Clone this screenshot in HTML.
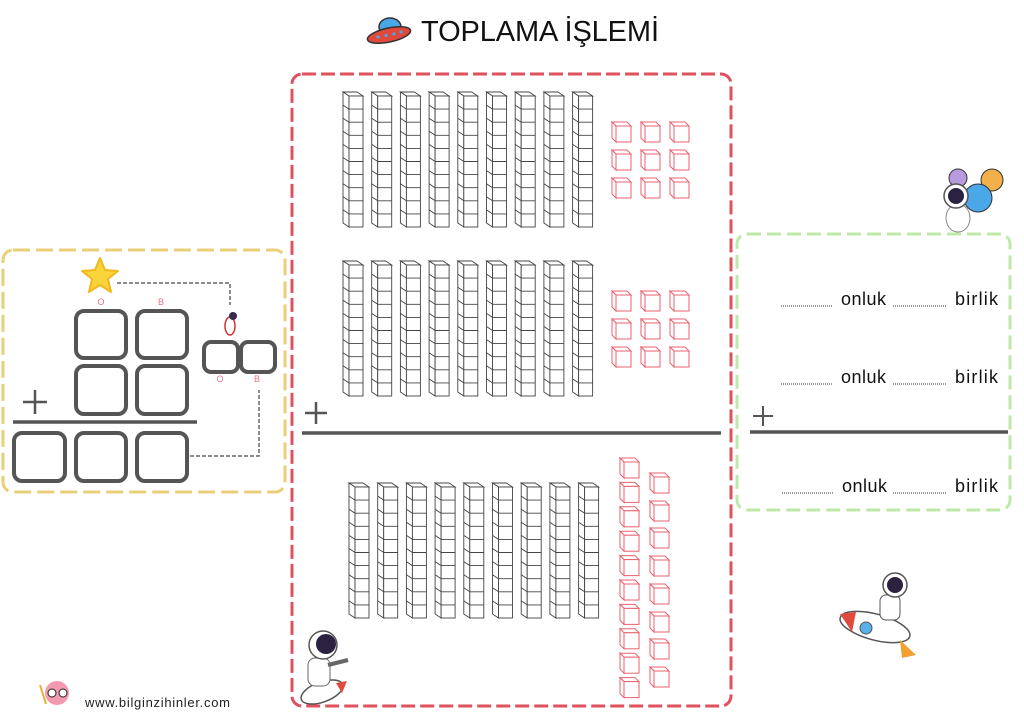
<!DOCTYPE html>
<html><head><meta charset="utf-8"><style>
html,body{margin:0;padding:0;background:#fff;width:1024px;height:724px;overflow:hidden}
svg{display:block}
text{font-family:"Liberation Sans","DejaVu Sans",sans-serif}
</style></head><body>
<svg width="1024" height="724" viewBox="0 0 1024 724" xmlns="http://www.w3.org/2000/svg">
<defs>
<g id="rod" fill="none" stroke="#444" stroke-width="0.9">
 <polygon points="0,0 14,0 20,4 6,4" fill="#fff"/>
 <polygon points="0,0 6,4 6,135 0,131" fill="#fff"/>
 <rect x="6" y="4" width="14" height="131" fill="#fff"/>
 <path d="M6 17.1h14M6 30.2h14M6 43.3h14M6 56.4h14M6 69.5h14M6 82.6h14M6 95.7h14M6 108.8h14M6 121.9h14
 M0 13.1l6 4M0 26.2l6 4M0 39.3l6 4M0 52.4l6 4M0 65.5l6 4M0 78.6l6 4M0 91.7l6 4M0 104.8l6 4M0 117.9l6 4"/>
</g>
<g id="cube" fill="#fff" stroke="#e8606e" stroke-width="1">
 <polygon points="0,0 15,0 19,4 4,4"/>
 <polygon points="0,0 4,4 4,20 0,16"/>
 <rect x="4" y="4" width="15" height="16"/>
</g>
<g id="tenrow">
 <use href="#rod" x="0"/><use href="#rod" x="28.7"/><use href="#rod" x="57.4"/><use href="#rod" x="86.1"/><use href="#rod" x="114.8"/><use href="#rod" x="143.5"/><use href="#rod" x="172.2"/><use href="#rod" x="200.9"/><use href="#rod" x="229.6"/>
</g>
<g id="nine">
 <use href="#cube" x="0" y="0"/><use href="#cube" x="29" y="0"/><use href="#cube" x="58" y="0"/>
 <use href="#cube" x="0" y="28"/><use href="#cube" x="29" y="28"/><use href="#cube" x="58" y="28"/>
 <use href="#cube" x="0" y="56"/><use href="#cube" x="29" y="56"/><use href="#cube" x="58" y="56"/>
</g>
</defs>

<!-- title -->
<g>
 <ellipse cx="390" cy="27" rx="11" ry="9" fill="#4aa8e8" stroke="#333" stroke-width="1.5"/>
 <ellipse cx="389" cy="35" rx="22" ry="7" fill="#e0483c" stroke="#333" stroke-width="1.5" transform="rotate(-12 389 35)"/>
 <circle cx="378" cy="37" r="1.6" fill="#4aa8e8"/><circle cx="386" cy="35.5" r="1.6" fill="#4aa8e8"/><circle cx="394" cy="34" r="1.6" fill="#4aa8e8"/><circle cx="401" cy="32" r="1.6" fill="#4aa8e8"/>
</g>
<text x="421" y="41" font-size="29" textLength="238" lengthAdjust="spacing" fill="#111">TOPLAMA İŞLEMİ</text>

<!-- boxes -->
<rect x="292" y="74" width="439" height="632" rx="10" fill="none" stroke="#e0505f" stroke-width="3" stroke-dasharray="14 5"/>
<rect x="3" y="250" width="282" height="242" rx="10" fill="none" stroke="#e8cf78" stroke-width="3" stroke-dasharray="17 6"/>
<rect x="737" y="234" width="273" height="276" rx="10" fill="none" stroke="#bfe8a8" stroke-width="3" stroke-dasharray="14 6"/>

<!-- rods -->
<use href="#tenrow" x="343" y="92"/>
<use href="#tenrow" x="343" y="261"/>
<use href="#tenrow" x="349" y="483"/>
<use href="#nine" x="612" y="122"/>
<use href="#nine" x="612" y="291"/>
<g>
 <use href="#cube" x="620" y="458"/><use href="#cube" x="620" y="482.4"/><use href="#cube" x="620" y="506.8"/><use href="#cube" x="620" y="531.2"/><use href="#cube" x="620" y="555.6"/><use href="#cube" x="620" y="580"/><use href="#cube" x="620" y="604.4"/><use href="#cube" x="620" y="628.8"/><use href="#cube" x="620" y="653.2"/><use href="#cube" x="620" y="677.6"/>
 <use href="#cube" x="650" y="473"/><use href="#cube" x="650" y="501"/><use href="#cube" x="650" y="528"/><use href="#cube" x="650" y="556"/><use href="#cube" x="650" y="584"/><use href="#cube" x="650" y="612"/><use href="#cube" x="650" y="639"/><use href="#cube" x="650" y="667"/>
</g>

<!-- middle line + plus -->
<line x1="302" y1="433" x2="721" y2="433" stroke="#555" stroke-width="3.5"/>
<path d="M305 413h22M316 402v22" stroke="#555" stroke-width="2.5"/>

<!-- left box -->
<g fill="none" stroke="#555" stroke-width="4">
 <rect x="76" y="311" width="50" height="47" rx="8"/>
 <rect x="137" y="311" width="50" height="47" rx="8"/>
 <rect x="76" y="366" width="50" height="48" rx="8"/>
 <rect x="137" y="366" width="50" height="48" rx="8"/>
 <rect x="14" y="433" width="51" height="48" rx="8"/>
 <rect x="76" y="433" width="50" height="48" rx="8"/>
 <rect x="137" y="433" width="50" height="48" rx="8"/>
 <rect x="204" y="342" width="34" height="30" rx="7"/>
 <rect x="241" y="342" width="34" height="30" rx="7"/>
</g>
<line x1="13" y1="422" x2="197" y2="422" stroke="#555" stroke-width="3.5"/>
<path d="M23 402h24M35 390v24" stroke="#555" stroke-width="2.5"/>
<g font-size="9" fill="#f07080" text-anchor="middle">
 <text x="101" y="305">O</text><text x="161" y="305">B</text>
 <text x="220" y="382">O</text><text x="257" y="382">B</text>
</g>
<path d="M117 283H230V305M190 456H259V390" fill="none" stroke="#666" stroke-width="1.5" stroke-dasharray="4 2"/>
<polygon points="100,258 105,270 118,271 108,279 111,292 100,285 89,292 92,279 82,271 95,270" fill="#f9d43a" stroke="#f2b71e" stroke-width="2" stroke-linejoin="round"/>
<g>
 <ellipse cx="230" cy="326" rx="5" ry="9" fill="#fff" stroke="#c33" stroke-width="1.5"/>
 <circle cx="233" cy="316" r="4" fill="#3a2a4a"/>
</g>

<!-- right box text -->
<g stroke="#333" stroke-width="1" stroke-dasharray="1 1">
 <line x1="781" y1="306" x2="833" y2="306"/><line x1="893" y1="306" x2="946" y2="306"/>
 <line x1="781" y1="384" x2="833" y2="384"/><line x1="893" y1="384" x2="946" y2="384"/>
 <line x1="782" y1="493" x2="834" y2="493"/><line x1="893" y1="493" x2="946" y2="493"/>
</g>
<g font-size="18" fill="#111">
 <text x="841" y="305" textLength="45">onluk</text>
 <text x="955" y="305" textLength="43">birlik</text>
 <text x="841" y="383" textLength="45">onluk</text>
 <text x="955" y="383" textLength="43">birlik</text>
 <text x="842" y="492" textLength="45">onluk</text>
 <text x="955" y="492" textLength="43">birlik</text>
</g>
<line x1="750" y1="432" x2="1008" y2="432" stroke="#555" stroke-width="3.5"/>
<path d="M753 416h20M763 406v20" stroke="#555" stroke-width="2"/>

<!-- astronaut top right -->
<g>
 <circle cx="992" cy="180" r="11" fill="#f2b04a" stroke="#333" stroke-width="1"/>
 <circle cx="958" cy="178" r="9" fill="#b89ae0" stroke="#333" stroke-width="1"/>
 <circle cx="978" cy="198" r="14" fill="#4aa8e8" stroke="#333" stroke-width="1"/>
 <ellipse cx="958" cy="218" rx="12" ry="14" fill="#fff" stroke="#888" stroke-width="1"/>
 <circle cx="956" cy="196" r="12" fill="#fff" stroke="#555" stroke-width="1.5"/>
 <circle cx="956" cy="196" r="8" fill="#2a2240"/>
</g>
<!-- astronaut rocket right -->
<g>
 <ellipse cx="875" cy="627" rx="36" ry="13" fill="#fff" stroke="#555" stroke-width="1.5" transform="rotate(15 875 627)"/>
 <polygon points="840,614 856,612 852,632" fill="#e04a3c"/>
 <polygon points="900,640 916,655 902,658" fill="#f2a030"/>
 <circle cx="866" cy="628" r="6" fill="#5ab0e8" stroke="#555"/>
 <rect x="880" y="595" width="20" height="25" rx="6" fill="#fff" stroke="#555"/>
 <circle cx="895" cy="585" r="12" fill="#fff" stroke="#555" stroke-width="1.5"/>
 <circle cx="895" cy="585" r="8" fill="#2a2240"/>
</g>
<!-- astronaut bottom of red box -->
<g>
 <ellipse cx="322" cy="692" rx="22" ry="10" fill="#fff" stroke="#555" stroke-width="1.5" transform="rotate(-20 322 692)"/>
 <polygon points="336,683 347,681 342,693" fill="#e04a3c"/>
 <rect x="308" y="658" width="22" height="28" rx="7" fill="#fff" stroke="#666"/>
 <circle cx="323" cy="645" r="14" fill="#fff" stroke="#555" stroke-width="1.5"/>
 <circle cx="326" cy="644" r="10" fill="#2a2240"/>
 <path d="M328 665l20 -5" stroke="#666" stroke-width="4"/>
</g>

<!-- footer -->
<g>
 <circle cx="57" cy="693" r="12" fill="#f49ab0"/>
 <circle cx="52" cy="693" r="4" fill="#fff" stroke="#222"/><circle cx="63" cy="693" r="4" fill="#fff" stroke="#222"/>
 <line x1="40" y1="685" x2="46" y2="704" stroke="#e8b030" stroke-width="2"/>
</g>
<text x="85" y="707" font-size="13" fill="#222" textLength="145">www.bilginzihinler.com</text>
</svg>
</body></html>
